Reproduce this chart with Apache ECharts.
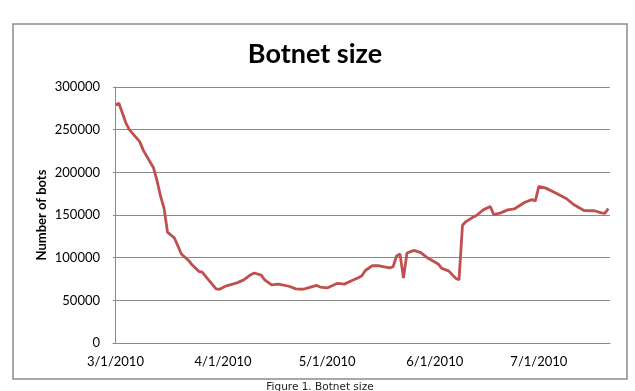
<!DOCTYPE html>
<html>
<head>
<meta charset="utf-8">
<script src="https://cdn.jsdelivr.net/npm/echarts@6/dist/echarts.min.js"></script>
<style>html,body{margin:0;padding:0;background:#fff}#c{width:635px;height:391px}</style>
</head>
<body>
<div id="c"></div>
<script>
var chartTitle = 'Botnet size';
var yAxisName = 'Number of bots';
var caption = 'Figure 1. Botnet size';
var dates = ['2010-03-01','2010-03-02','2010-03-04','2010-03-05','2010-03-08','2010-03-09','2010-03-12','2010-03-13','2010-03-14','2010-03-15','2010-03-16','2010-03-18','2010-03-20','2010-03-22','2010-03-23','2010-03-25','2010-03-26','2010-03-28','2010-03-30','2010-03-31',
'2010-04-02','2010-04-05','2010-04-07','2010-04-09','2010-04-10','2010-04-12','2010-04-13','2010-04-15','2010-04-17','2010-04-20','2010-04-22','2010-04-24','2010-04-25','2010-04-28','2010-04-29',
'2010-05-01','2010-05-04','2010-05-06','2010-05-08','2010-05-10','2010-05-11','2010-05-12','2010-05-14','2010-05-16','2010-05-19','2010-05-20','2010-05-21','2010-05-22','2010-05-23','2010-05-24','2010-05-26','2010-05-28','2010-05-30',
'2010-06-02','2010-06-03','2010-06-05','2010-06-07','2010-06-08','2010-06-09','2010-06-10','2010-06-12','2010-06-13','2010-06-15','2010-06-17','2010-06-18','2010-06-20','2010-06-22','2010-06-24','2010-06-27','2010-06-29','2010-06-30',
'2010-07-01','2010-07-03','2010-07-06','2010-07-09','2010-07-11','2010-07-14','2010-07-17','2010-07-19','2010-07-20','2010-07-21'];
var bots = [279000,281000,258000,250000,236000,226000,205000,190000,172000,158000,130000,123000,104300,97000,92000,84000,83000,73000,63500,63000,
67000,70500,74000,80000,82000,79500,74000,68000,69000,66500,63500,63000,64000,67500,65500,
64500,70000,69000,73000,76500,78800,85000,90500,90500,88000,89400,102000,104300,76000,105500,108500,106000,99500,
92600,87500,84500,76000,74000,138000,142300,147400,149400,156000,160000,150500,152500,156000,157300,165000,168000,166500,
183500,181500,175500,169000,162300,155300,155000,152500,152000,157500];
var tickDates = ['2010-03-01','2010-04-01','2010-05-01','2010-06-01','2010-07-01'];
var tickLabels = ['3/1/2010','4/1/2010','5/1/2010','6/1/2010','7/1/2010'];

function dayIndex(s){
  var p = s.split('-');
  return (Date.UTC(+p[0], +p[1]-1, +p[2]) - Date.UTC(2010,2,1)) / 86400000;
}
var seriesData = dates.map(function(d,i){ return [dayIndex(d), bots[i]]; });
var tickDays = tickDates.map(dayIndex);
var labelMap = {};
tickDays.forEach(function(d,i){ labelMap[d] = tickLabels[i]; });

var chart = echarts.init(document.getElementById('c'), null, {renderer:'canvas'});
chart.setOption({
  backgroundColor: '#ffffff',
  animation: false,
  title: {
    text: chartTitle,
    left: 310, top: 36, textAlign: 'center',
    textStyle: {fontFamily: 'Lato', fontWeight: 'bold', fontSize: 27, color: '#000'}
  },
  graphic: [
    {type:'rect', shape:{x:13, y:24, width:614, height:355}, style:{fill:'none', stroke:'#8c8c8c', lineWidth:1.5}, silent:true},
    {type:'text', x:320, y:387, style:{text: caption, fontFamily:'DejaVu Sans', fontSize:10.5, fill:'#222', align:'center', verticalAlign:'middle'}, silent:true}
  ],
  grid: {left:113, top:87, right:25, bottom:48, containLabel:false},
  xAxis: {
    type: 'value', min: -0.7, max: 142.5,
    axisLine: {show:true, lineStyle:{color:'#8a8a8a', width:1}},
    axisTick: {show:false},
    splitLine: {show:false},
    axisLabel: {
      customValues: tickDays,
      formatter: function(v){ return labelMap[v] || ''; },
      margin: 12, fontFamily:'Lato', fontSize:13, color:'#000'
    }
  },
  yAxis: {
    type: 'value', min: 0, max: 300000, interval: 50000,
    name: yAxisName, nameLocation: 'middle', nameRotate: 90, nameGap: 65, nameMoveOverlap: false,
    nameTextStyle: {fontFamily:'Lato', fontWeight:'bold', fontSize:13, color:'#000'},
    axisLine: {show:true, lineStyle:{color:'#8a8a8a', width:1}},
    axisTick: {show:false},
    splitLine: {show:true, lineStyle:{color:'#8a8a8a', width:1}},
    axisLabel: {margin: 13, fontFamily:'Lato', fontSize:13, color:'#000', formatter: function(v){ return String(v); }}
  },
  series: [{
    type: 'line', data: seriesData, showSymbol: false, symbol:'none',
    lineStyle: {color:'#c0504d', width:2.8}, smooth: false
  }]
});
</script>
</body>
</html>
